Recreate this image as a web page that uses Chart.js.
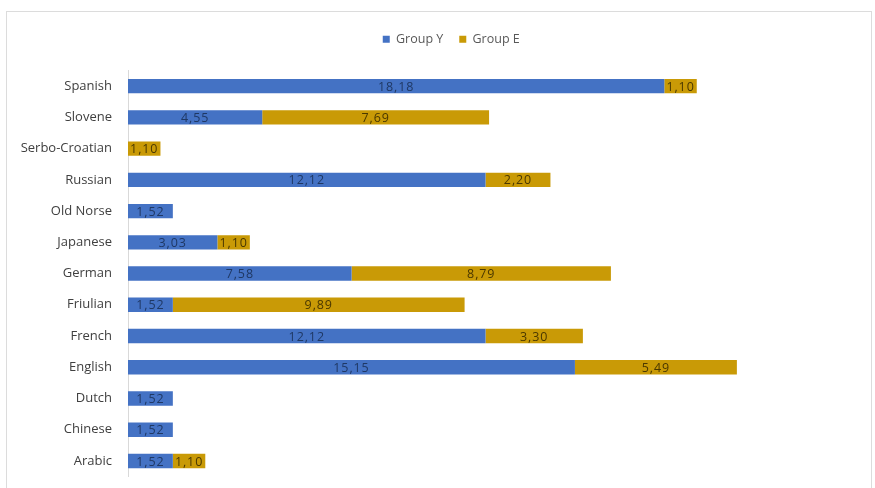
<!DOCTYPE html>
<html>
<head>
<meta charset="utf-8">
<script src="https://cdn.jsdelivr.net/npm/chart.js@4.4.1/dist/chart.umd.min.js"></script>
<style>
  html, body { margin: 0; padding: 0; background: #fff; }
  #wrap { position: relative; width: 875px; height: 488px; overflow: hidden; }
  #frame { position: absolute; left: 6px; top: 11px; width: 866px; height: 490px;
           border: 1px solid #dcdcdc; box-sizing: border-box; pointer-events: none; }
  canvas { position: absolute; left: 0; top: 0; }
</style>
</head>
<body>
<div id="wrap">
  <canvas id="c" width="875" height="488"></canvas>
  <div id="frame"></div>
</div>
<script>
const languages = ['Spanish', 'Slovene', 'Serbo-Croatian', 'Russian', 'Old Norse', 'Japanese',
                   'German', 'Friulian', 'French', 'English', 'Dutch', 'Chinese', 'Arabic'];
const groupY = [18.18, 4.55, 0, 12.12, 1.52, 3.03, 7.58, 1.52, 12.12, 15.15, 1.52, 1.52, 1.52];
const groupE = [1.10, 7.69, 1.10, 2.20, 0, 1.10, 8.79, 9.89, 3.30, 5.49, 0, 0, 1.10];

const FONT = "'Open Sans', 'DejaVu Sans', sans-serif";

// Nudges the legend right, and writes each non-zero value (decimal comma)
// in the middle of its bar segment
const barValueLabels = {
  id: 'barValueLabels',
  afterLayout(chart) {
    chart.legend.left += 37;
  },
  afterDatasetsDraw(chart) {
    const ctx = chart.ctx;
    ctx.save();
    ctx.font = '12.5px ' + FONT;
    ctx.letterSpacing = '0.9px';
    ctx.textAlign = 'center';
    ctx.textBaseline = 'middle';
    chart.data.datasets.forEach((ds, di) => {
      const meta = chart.getDatasetMeta(di);
      meta.data.forEach((bar, i) => {
        const v = ds.data[i];
        if (!v) return;
        const cx = (bar.x + bar.base) / 2;
        ctx.fillStyle = ds.labelColor;
        ctx.fillText(v.toFixed(2).replace('.', ','), cx, bar.y + 1);
      });
    });
    ctx.restore();
  }
};

new Chart(document.getElementById('c'), {
  type: 'bar',
  data: {
    labels: languages,
    datasets: [
      { label: 'Group Y', data: groupY, backgroundColor: '#4472C4', labelColor: '#1F3864' },
      { label: 'Group E', data: groupE, backgroundColor: '#C99A06', labelColor: '#4A3800' }
    ]
  },
  options: {
    indexAxis: 'y',
    responsive: false,
    animation: false,
    layout: { padding: { top: 17, right: 9.5, bottom: 11.4, left: 0 } },
    datasets: { bar: { categoryPercentage: 1, barPercentage: 0.46 } },
    scales: {
      x: {
        stacked: true,
        position: 'top',
        min: 0,
        max: 25,
        grid: { display: false },
        border: { display: false },
        ticks: { display: false },
        afterFit(s) { s.height = 15; }
      },
      y: {
        stacked: true,
        grid: { display: false, drawTicks: false },
        border: { display: true, color: '#d9d9d9', width: 1 },
        ticks: { color: '#404040', padding: 16, font: { family: FONT, size: 13 } },
        afterFit(s) { s.width = 128; s.paddingTop = 0; s.paddingBottom = 0; }
      }
    },
    plugins: {
      legend: {
        position: 'top',
        labels: {
          boxWidth: 7, boxHeight: 7, padding: 16,
          color: '#595959', font: { family: FONT, size: 12.5 }
        }
      },
      tooltip: { enabled: false }
    }
  },
  plugins: [barValueLabels]
});
</script>
</body>
</html>
